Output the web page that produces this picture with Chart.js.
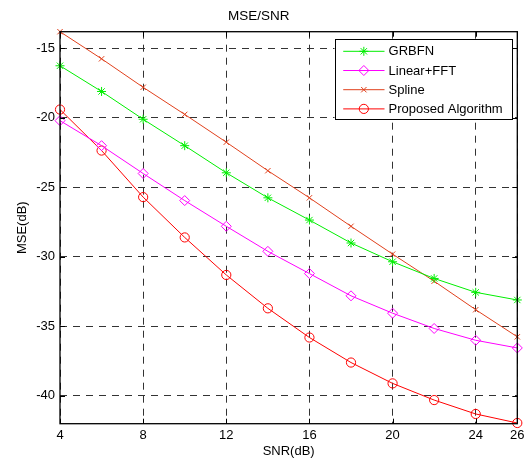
<!DOCTYPE html>
<html>
<head>
<meta charset="utf-8">
<script src="https://cdn.jsdelivr.net/npm/chart.js@4/dist/chart.umd.min.js"></script>
<style>
  html, body { margin: 0; padding: 0; background: #ffffff; }
  #wrap { width: 529px; height: 459px; }
</style>
</head>
<body>
<div id="wrap"><canvas id="c" width="529" height="459"></canvas></div>
<script>
// ---- data ----
const snr = [4, 6, 8, 10, 12, 14, 16, 18, 20, 22, 24, 26];
const grbfn = [-16.25, -18.1, -20.1, -22.0, -23.95, -25.75, -27.35, -29.0, -30.35, -31.55, -32.55, -33.1];
const linearFft = [-20.2, -22.0, -24.0, -25.95, -27.8, -29.6, -31.2, -32.8, -34.05, -35.15, -36.0, -36.55];
const spline = [-13.8, -15.75, -17.8, -19.75, -21.75, -23.8, -25.75, -27.8, -29.8, -31.75, -33.8, -35.75];
const proposed = [-19.4, -22.35, -25.7, -28.6, -31.3, -33.7, -35.8, -37.6, -39.1, -40.3, -41.3, -41.95];
const seriesNames = ['GRBFN', 'Linear+FFT', 'Spline', 'Proposed Algorithm'];
const xTicks = [4, 8, 12, 16, 20, 24, 26];
const yTicks = [-40, -35, -30, -25, -20, -15];
const chartTitle = 'MSE/SNR';
const xTitle = 'SNR(dB)';
const yTitle = 'MSE(dB)';

const FONT = "'Liberation Sans', Arial, Helvetica, sans-serif";

function pts(ys) { return snr.map((x, i) => ({ x: x, y: ys[i] })); }

function ds(label, ys, color, style, radius, fill) {
  return {
    label: label,
    data: pts(ys),
    borderColor: color,
    backgroundColor: color,
    borderWidth: 1,
    pointStyle: style,
    pointRadius: radius,
    pointHoverRadius: radius,
    pointBorderColor: color,
    pointBackgroundColor: fill ? color : 'rgba(0,0,0,0)',
    pointBorderWidth: 1,
    tension: 0,
    clip: false
  };
}

const datasets = [
  ds(seriesNames[0], grbfn, '#00ee00', 'star', 4.5, false),
  ds(seriesNames[1], linearFft, '#ff00ff', 'rectRot', 5, false),
  ds(seriesNames[2], spline, '#e0401c', 'crossRot', 3.8, false),
  ds(seriesNames[3], proposed, '#ff0000', 'circle', 4.6, false)
];

const boxPlugin = {
  id: 'boxPlugin',
  afterDatasetsDraw(chart) {
    const ctx = chart.ctx;
    const a = chart.chartArea;
    const xs = chart.scales.x, ys = chart.scales.y;
    ctx.save();
    ctx.strokeStyle = '#000000';
    ctx.lineWidth = 1.3;
    ctx.setLineDash([]);
    ctx.strokeRect(a.left, a.top, a.right - a.left, a.bottom - a.top);
    ctx.lineWidth = 1;
    const tl = 5;
    ctx.beginPath();
    xTicks.forEach(v => {
      const px = Math.round(xs.getPixelForValue(v)) + 0.5;
      ctx.moveTo(px, a.bottom); ctx.lineTo(px, a.bottom - tl);
      ctx.moveTo(px, a.top); ctx.lineTo(px, a.top + tl);
    });
    yTicks.forEach(v => {
      const py = Math.round(ys.getPixelForValue(v)) + 0.5;
      ctx.moveTo(a.left, py); ctx.lineTo(a.left + tl, py);
      ctx.moveTo(a.right, py); ctx.lineTo(a.right - tl, py);
    });
    ctx.stroke();
    ctx.restore();
  },
  afterDraw(chart) {
    // legend drawn inside the plot, top-right
    const ctx = chart.ctx;
    const a = chart.chartArea;
    ctx.save();
    ctx.font = '13px ' + FONT;
    let maxW = 0;
    chart.data.datasets.forEach(d => { maxW = Math.max(maxW, ctx.measureText(d.label).width); });
    const w = 54 + maxW + 9;
    const h = 80;
    const right = a.right - 5.6;
    const left = right - w;
    const top = a.top + 7.6;
    ctx.fillStyle = '#ffffff';
    ctx.fillRect(left, top, w, h);
    ctx.strokeStyle = '#000000';
    ctx.lineWidth = 1;
    ctx.strokeRect(Math.round(left) + 0.5, Math.round(top) + 0.5, Math.round(w), Math.round(h));
    chart.data.datasets.forEach((d, i) => {
      const cy = top + 12 + i * 19.2;
      ctx.strokeStyle = d.borderColor;
      ctx.lineWidth = 1;
      ctx.beginPath();
      ctx.moveTo(left + 8.7, cy);
      ctx.lineTo(left + 50, cy);
      ctx.stroke();
      const cx = left + 29.3;
      ctx.fillStyle = d.pointBackgroundColor;
      ctx.strokeStyle = d.pointBorderColor;
      ctx.lineWidth = 1;
      if (window.Chart && Chart.helpers && Chart.helpers.drawPoint) {
        Chart.helpers.drawPoint(ctx, { pointStyle: d.pointStyle, rotation: 0, radius: d.pointRadius, borderWidth: 1 }, cx, cy);
      }
      ctx.fillStyle = '#000000';
      ctx.textBaseline = 'middle';
      ctx.textAlign = 'left';
      ctx.fillText(d.label, left + 54, cy + 0.5);
    });
    ctx.restore();
  }
};

new Chart(document.getElementById('c'), {
  type: 'line',
  data: { datasets: datasets },
  plugins: [boxPlugin],
  options: {
    responsive: false,
    animation: false,
    devicePixelRatio: 1,
    layout: { padding: { left: 0, right: 11.7, top: 0, bottom: 0 } },
    plugins: {
      legend: { display: false },
      tooltip: { enabled: false },
      title: {
        display: true,
        text: chartTitle,
        color: '#000000',
        font: { family: FONT, size: 13.5, weight: 'normal' },
        padding: { top: 8, bottom: 7.5 }
      }
    },
    scales: {
      x: {
        type: 'linear',
        min: 4,
        max: 26,
        afterBuildTicks: s => { s.ticks = xTicks.map(v => ({ value: v })); },
        afterFit: s => { s.height = 35.3; },
        grid: { color: '#333333', lineWidth: 1, drawTicks: false },
        border: { display: false, dash: [7, 6] },
        ticks: { color: '#000000', font: { family: FONT, size: 13 }, padding: 4, maxRotation: 0, autoSkip: false },
        title: { display: true, text: xTitle, color: '#000000', font: { family: FONT, size: 13 }, padding: { top: 0, bottom: 0 } }
      },
      y: {
        type: 'linear',
        min: -42,
        max: -13.8,
        afterBuildTicks: s => { s.ticks = yTicks.map(v => ({ value: v })); },
        afterFit: s => { s.width = 60; },
        grid: { color: '#333333', lineWidth: 1, drawTicks: false },
        border: { display: false, dash: [7, 6] },
        ticks: { color: '#000000', font: { family: FONT, size: 13 }, padding: 5, autoSkip: false },
        title: { display: true, text: yTitle, color: '#000000', font: { family: FONT, size: 13 }, padding: { top: 15, bottom: 0 } }
      }
    }
  }
});
</script>
</body>
</html>
